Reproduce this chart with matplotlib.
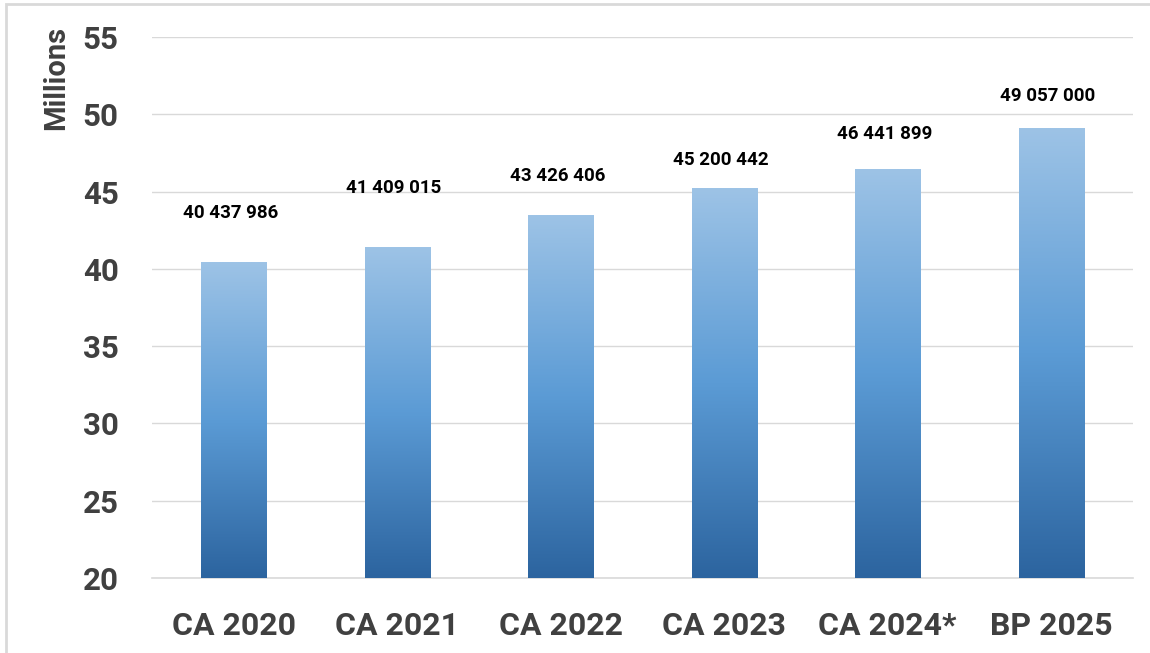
import matplotlib
matplotlib.use("Agg")
import matplotlib.pyplot as plt
import numpy as np
from matplotlib.colors import LinearSegmentedColormap
from matplotlib.patches import Rectangle

categories = ["CA 2020", "CA 2021", "CA 2022", "CA 2023", "CA 2024*", "BP 2025"]
values = [40437986, 41409015, 43426406, 45200442, 46441899, 49057000]
value_labels = ["40 437 986", "41 409 015", "43 426 406", "45 200 442", "46 441 899", "49 057 000"]
yticks = [20, 25, 30, 35, 40, 45, 50, 55]

# label vertical offsets above bar top (points), as placed in the original
label_offsets = [29, 36, 22, 14, 19, 17]

W, H = 1150, 653
fig = plt.figure(figsize=(W / 100, H / 100), dpi=100)
ax = fig.add_axes([152 / W, 1 - 578 / H, (1133 - 152) / W, (578 - 37) / H])

text_color = "#404040"
font = "Roboto"

cmap = LinearSegmentedColormap.from_list(
    "bar", [(0.0, "#2C649F"), (0.5, "#5B9BD5"), (1.0, "#9DC3E6")])
grad = np.linspace(0, 1, 256).reshape(-1, 1)

ymin, ymax = 20, 55
bw = 0.40
vals_m = [v / 1e6 for v in values]
for i, v in enumerate(vals_m):
    ax.imshow(grad, extent=[i - bw / 2, i + bw / 2, ymin, v], origin="lower",
              cmap=cmap, aspect="auto", zorder=3, interpolation="bilinear")
    ax.annotate(value_labels[i], (i - 0.02, v), xytext=(0, label_offsets[i]),
                textcoords="offset points", ha="center", va="bottom",
                fontsize=13.5, fontweight="bold", color="black", family=font)

ax.set_xlim(-0.5, len(categories) - 0.5)
ax.set_ylim(ymin, ymax)
ax.set_yticks(yticks)
ax.set_yticklabels([str(t) for t in yticks])
ax.set_xticks(range(len(categories)))
ax.set_xticklabels(categories)
for lbl in ax.get_yticklabels():
    lbl.set_fontsize(22.5)
    lbl.set_fontweight("bold")
    lbl.set_color(text_color)
    lbl.set_family(font)
for lbl in ax.get_xticklabels():
    lbl.set_fontsize(23)
    lbl.set_fontweight("bold")
    lbl.set_color(text_color)
    lbl.set_family(font)
ax.tick_params(axis="both", length=0)
ax.tick_params(axis="y", pad=24)
ax.tick_params(axis="x", pad=24)

ax.grid(axis="y", color="#D9D9D9", linewidth=1, zorder=0)
ax.set_axisbelow(True)
for s in ["top", "right", "left"]:
    ax.spines[s].set_visible(False)
ax.spines["bottom"].set_color("#D9D9D9")
ax.spines["bottom"].set_linewidth(1.2)

fig.text(56 / W, 1 - 78 / H, "Millions", rotation=90, ha="center", va="center",
         fontsize=21, fontweight="bold", color=text_color, family=font)

fig.patches.append(Rectangle((6 / W, -0.05), 1.1, 1 - 4 / H + 0.05,
                             transform=fig.transFigure, fill=False,
                             edgecolor="#D9D9D9", linewidth=2))

fig.savefig("out.png", dpi=100)
